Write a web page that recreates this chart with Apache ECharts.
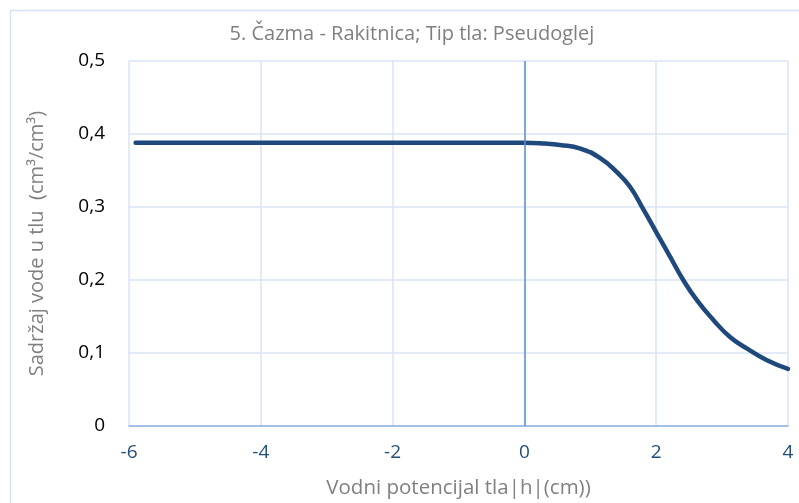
<!DOCTYPE html>
<html><head><meta charset="utf-8">
<script src="https://cdn.jsdelivr.net/npm/echarts@6/dist/echarts.min.js"></script>
<style>html,body{margin:0;padding:0;background:#fff}#c{width:799px;height:503px}</style>
</head><body><div id="c"></div>
<script>
var titleText = "5. Čazma - Rakitnica; Tip tla: Pseudoglej";
var xName = "Vodni potencijal tla|h|(cm))";
var yName = "Sadržaj vode u tlu  (cm³/cm³)";
var xValues = [-5.9, -4, -2, 0, 0.3, 0.54, 0.85, 1.15, 1.40, 1.60, 1.81, 2.01, 2.21, 2.41, 2.62, 2.87, 3.12, 3.38, 3.68, 4.0];
var yValues = [0.388, 0.388, 0.388, 0.388, 0.387, 0.385, 0.380, 0.367, 0.348, 0.328, 0.296, 0.264, 0.232, 0.200, 0.172, 0.145, 0.122, 0.106, 0.090, 0.0783];

var data = xValues.map(function(x, i){ return [x, yValues[i]]; });
var chart = echarts.init(document.getElementById('c'));
chart.setOption({
  animation: false,
  backgroundColor: '#fff',
  graphic: [{type:'rect', shape:{x:10.5,y:10.5,width:800,height:500}, style:{fill:'none', stroke:'#d6e3f3', lineWidth:1.5}, silent:true}],
  title: {text: titleText, left: 407, top: 19, textAlign: 'center',
    textStyle: {color:'#808080', fontSize:20, fontWeight:'normal', fontFamily:'Open Sans'}},
  grid: {left: 129, right: 11, top: 61, bottom: 77, outerBoundsMode: 'none', containLabel: false},
  xAxis: {type:'value', min:-6, max:4, interval:2,
    name: xName, nameLocation:'middle', nameGap:52,
    nameTextStyle:{color:'#808080', fontSize:20.5, fontFamily:'Open Sans'},
    axisLine:{show:true, onZero:false, lineStyle:{color:'#8fb4e3', width:1.5}},
    axisTick:{show:false},
    axisLabel:{color:'#1f4e79', fontSize:19, margin:17, fontFamily:'Open Sans'},
    splitLine:{show:true, lineStyle:{color:'#d9e5f5', width:1.5}}},
  yAxis: {type:'value', min:0, max:0.5, interval:0.1,
    name: yName, nameLocation:'middle', nameGap:82, nameRotate:90,
    nameTextStyle:{color:'#808080', fontSize:20, fontFamily:'Open Sans'},
    axisLine:{show:false}, axisTick:{show:false},
    axisLabel:{color:'#000', fontSize:19, margin:24, fontFamily:'Open Sans',
      formatter:function(v){ return String(Math.round(v*10)/10).replace('.', ','); }},
    splitLine:{show:true, lineStyle:{color:'#d9e5f5', width:1.5}}},
  series: [{type:'line', data:data, smooth:0.5, showSymbol:false,
    lineStyle:{color:'#1f497d', width:4.5, cap:'round', join:'round'},
    markLine:{silent:true, symbol:'none', label:{show:false},
      lineStyle:{color:'#5b8fd0', width:1.5, type:'solid'},
      data:[{xAxis:0}]}}]
});
</script></body></html>
